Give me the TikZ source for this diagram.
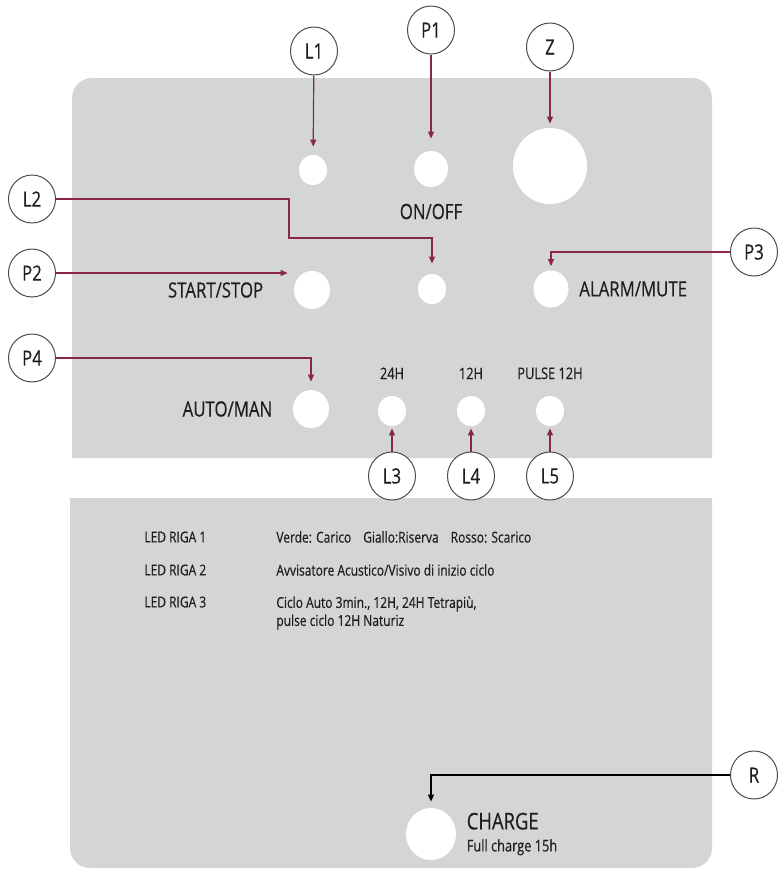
\documentclass[tikz,border=0pt]{standalone}
\usepackage{fontspec}
\setmainfont{Open Sans}[FakeStretch=0.8, FakeBold=0.4]
\usetikzlibrary{arrows.meta,shapes.geometric,positioning}
\definecolor{panel}{HTML}{D4D6D6}
\definecolor{wire}{HTML}{8A2747}
\definecolor{ink}{HTML}{1E1E1E}

\begin{document}
\begin{tikzpicture}[x=0.5pt, y=-0.5pt,
  every node/.style={text=ink},
  tag/.style={ellipse, draw=black!70, fill=white, line width=0.5pt,
              minimum width=23.5pt, minimum height=24pt, inner sep=0pt,
              font=\fontsize{10.5}{12}\selectfont},
  hole/.style={ellipse, fill=white, inner sep=0pt},
  led/.style={hole, minimum width=14pt, minimum height=15pt},
  btn/.style={hole, minimum width=18pt, minimum height=19pt},
  legend/.style={font=\fontsize{10.5}{12}\selectfont, inner sep=0pt},
  small/.style={font=\fontsize{8}{10}\selectfont, inner sep=0pt},
  note/.style={font=\fontsize{7.5}{9}\selectfont, anchor=west, inner sep=0pt},
  arr/.style={-{Triangle[length=3.5pt, width=3pt]}, line width=0.6pt, wire},
]
\useasboundingbox (0,0) rectangle (782,874);

% panels
\fill[panel] (72,458) [rounded corners=10pt] -- (72,78) -- (712,78) [sharp corners] -- (712,458) -- cycle;
\fill[panel] (712,498) [rounded corners=10pt] -- (712,868) -- (70,868) [sharp corners] -- (70,498) -- cycle;

% holes, upper panel
\node[led] (ledL1) at (313,170) {};
\node[hole, minimum width=17pt, minimum height=18pt] (btnOn) at (431,169) {};
\node[hole, minimum width=37pt, minimum height=38pt] (buzz) at (550,166) {};
\node[btn] (btnStart) at (312,290) {};
\node[led] (ledL2) at (432,289) {};
\node[btn, minimum width=17.5pt, minimum height=18.5pt] (btnAlarm) at (551,289) {};
\node[btn] (btnAuto) at (311,409) {};
\node[led] (led24) at (392,411) {};
\node[led] (led12) at (471,411) {};
\node[led] (ledPulse) at (550,411) {};

% captions
\node[legend, below=8pt of btnOn] (tOn) {ON/OFF};
\node[legend, left=15pt of btnStart] (tStart) {START/STOP};
\node[legend, right=5pt of btnAlarm] (tAlarm) {ALARM/MUTE};
\node[legend, left=10pt of btnAuto] (tAuto) {AUTO/MAN};
\node[small, above=8pt of led24] (t24) {24H};
\node[small, above=8pt of led12] (t12) {12H};
\node[small, above=8pt of ledPulse] (tPulse) {PULSE 12H};

% lower panel
\node[note] (r1) at (144,537) {LED RIGA 1};
\node[note] (r2) at (144,570) {LED RIGA 2};
\node[note] (r3) at (144,602) {LED RIGA 3};
\node[note] (d1) at (276,537) {Verde: Carico\hspace{0.8em}Giallo:Riserva\hspace{0.8em}Rosso: Scarico};
\node[note] (d2) at (276,570) {Avvisatore Acustico/Visivo di inizio ciclo};
\node[note, align=left, anchor=north west] (d3) at (276,596)
  {Ciclo Auto 3min., 12H, 24H Tetrapiù,\\pulse ciclo 12H Naturiz};
\node[hole, minimum width=25pt, minimum height=26pt] (charge) at (431,834) {};
\node[align=left, anchor=west, right=5pt of charge, inner sep=0pt] (tCharge)
  {{\fontsize{11.5}{12}\selectfont CHARGE}\\[-1pt]{\fontsize{8}{9}\selectfont Full charge 15h}};

% callouts
\node[tag] (L1) at (314,51) {L1};
\node[tag] (P1) at (431,30) {P1};
\node[tag] (Z) at (550,47) {Z};
\node[tag] (L2) at (32,199) {L2};
\node[tag] (P2) at (32,273) {P2};
\node[tag] (P3) at (754,252) {P3};
\node[tag] (P4) at (32,358) {P4};
\node[tag] (L3) at (392,476) {L3};
\node[tag] (L4) at (471,476) {L4};
\node[tag] (L5) at (550,476) {L5};
\node[tag] (R) at (754,775) {R};
\coordinate (kL2) at (289,238);

\draw[arr, shorten >=4pt] (L1) -- (ledL1);
\draw[arr, shorten >=6pt] (P1) -- (btnOn);
\draw[arr, shorten >=2pt] (Z) -- (buzz);
\draw[arr, shorten >=5pt] (L2.east) -| (kL2) -| (ledL2.north);
\draw[arr, shorten >=3pt] (P2.east) -- (P2 -| btnStart.west);
\draw[arr, shorten >=2pt] (P3.west) -| (btnAlarm.north);
\draw[arr, shorten >=4pt] (P4.east) -| (btnAuto.north);
\draw[arr, shorten >=1pt] (L3) -- (led24);
\draw[arr, shorten >=1pt] (L4) -- (led12);
\draw[arr, shorten >=1pt] (L5) -- (ledPulse);
\draw[arr, black, shorten >=3pt] (R.west) -| (charge.north);

\end{tikzpicture}
\end{document}
